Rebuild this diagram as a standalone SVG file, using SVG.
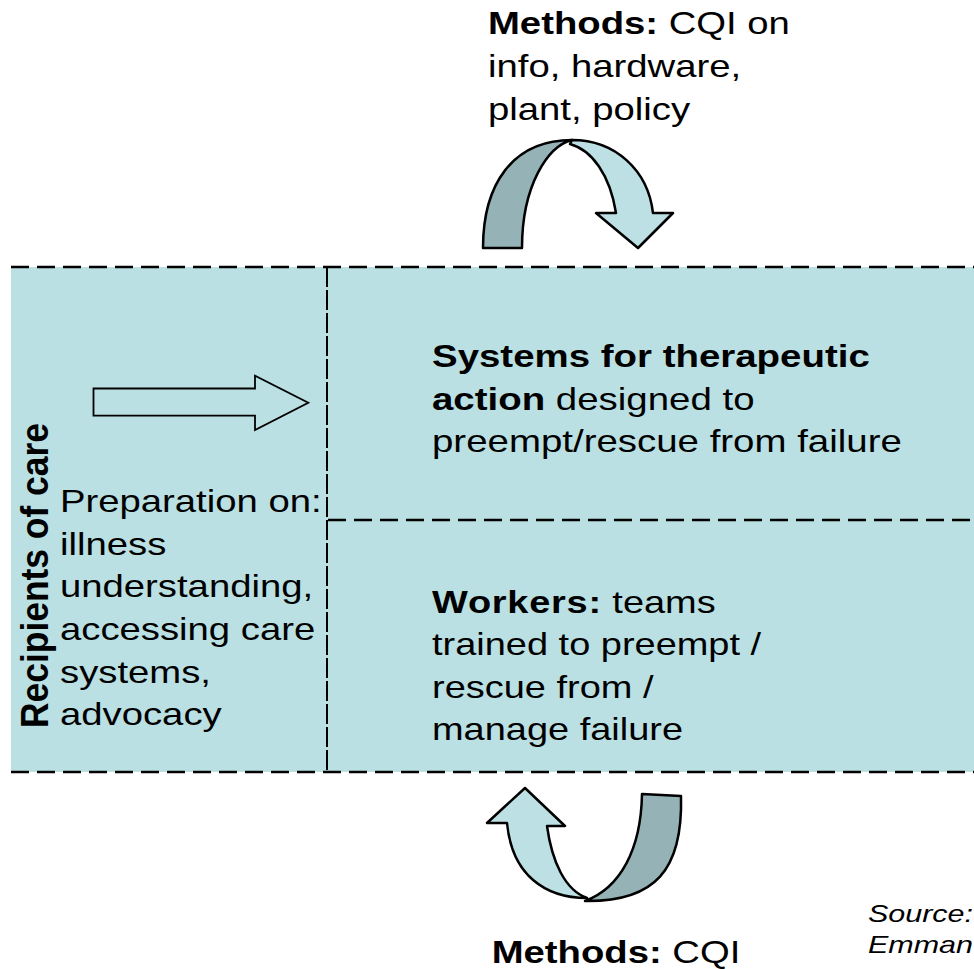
<svg xmlns="http://www.w3.org/2000/svg" width="974" height="969" viewBox="0 0 974 969">
<style>
text{font-family:"Liberation Sans",Arial,sans-serif;fill:#000}
.t{font-size:30.5px}
.b{font-weight:bold}
.box{fill:#BAE0E3;stroke:none}
.dash{fill:none;stroke:#000;stroke-width:2.5;stroke-dasharray:18 8}
.vdash{fill:none;stroke:#000;stroke-width:2;stroke-dasharray:20 3}
.dark{fill:#95B3B6;stroke:#000;stroke-width:2.5;stroke-linejoin:round}
.light{fill:#BCE0E3;stroke:#000;stroke-width:2.5;stroke-linejoin:round}
.block{fill:#BAE0E3;stroke:#000;stroke-width:1.8}
</style>
<rect width="974" height="969" fill="#fff"/>

<g id="recipients">
<rect class="box" x="11" y="267" width="316" height="505"/>
<text class="b" font-size="35.4" transform="translate(48,728) rotate(-90) scale(1,1.12)">Recipients of care</text>
<g transform="translate(60,0) scale(1.255,1)">
<text class="t" x="0" y="511.7">Preparation on:</text>
<text class="t" x="0" y="555">illness</text>
<text class="t" x="0" y="596.7">understanding,</text>
<text class="t" x="0" y="640">accessing care</text>
<text class="t" x="0" y="683.3">systems,</text>
<text class="t" x="0" y="725">advocacy</text>
</g>
</g>

<g id="systems">
<rect class="box" x="327" y="267" width="660" height="253"/>
<g transform="translate(432,0) scale(1.26,1)">
<text class="t b" x="0" y="366.7">Systems for therapeutic</text>
<text class="t" x="0" y="410"><tspan class="b">action</tspan> designed to</text>
<text class="t" x="0" y="451.7">preempt/rescue from failure</text>
</g>
</g>

<g id="workers">
<rect class="box" x="327" y="520" width="660" height="252"/>
<g transform="translate(432,0) scale(1.245,1)">
<text class="t" x="0" y="613.3"><tspan class="b" letter-spacing="0.6">Workers:</tspan> teams</text>
<text class="t" x="0" y="655">trained to preempt /</text>
<text class="t" x="0" y="698.3">rescue from /</text>
<text class="t" x="0" y="740">manage failure</text>
</g>
</g>

<g id="connectors">
<path class="dash" d="M11,267 H980 M11,772 H980"/>
<path class="dash" d="M328,520 H980"/>
<path class="vdash" d="M327,267 V772"/>
<path id="arrow-in" class="block" d="M93.5,388.5 H255 V375.7 L308.3,402.7 L255,430 V415.7 H93.5 Z"/>
</g>

<g id="methods-top">
<path class="dark" d="M483,248 C483,185 512,140 572,140 C548,146 522,185 522,248 Z"/>
<path class="light" d="M572,140 C615,140 648,170 653,213 L673,213 L638,248 L596,213 L616,213 C610,175 592,150 570,144 Z"/>
<g transform="translate(488,0) scale(1.255,1)">
<text class="t" x="0" y="34.5"><tspan class="b">Methods:</tspan> CQI on</text>
<text class="t" x="0" y="77">info, hardware,</text>
<text class="t" x="0" y="120">plant, policy</text>
</g>
</g>

<g id="methods-bottom">
<path class="dark" d="M642,794 L681,796 C683,870 655,902 585,901 C620,888 641,850 642,794 Z"/>
<path class="light" d="M507,823 L487,823 L525,788 L565,826 L547,826 C552,862 565,890 587,898 C545,898 512,875 507,823 Z"/>
<g transform="translate(491.7,0) scale(1.255,1)">
<text class="t" x="0" y="963.3"><tspan class="b">Methods:</tspan> CQI</text>
</g>
</g>

<g id="source">
<g transform="translate(868,0) scale(1.27,1)">
<text font-size="24" font-style="italic" x="0" y="921.7">Source:</text>
<text font-size="24" font-style="italic" x="0" y="953">Emman</text>
</g>
</g>
</svg>
